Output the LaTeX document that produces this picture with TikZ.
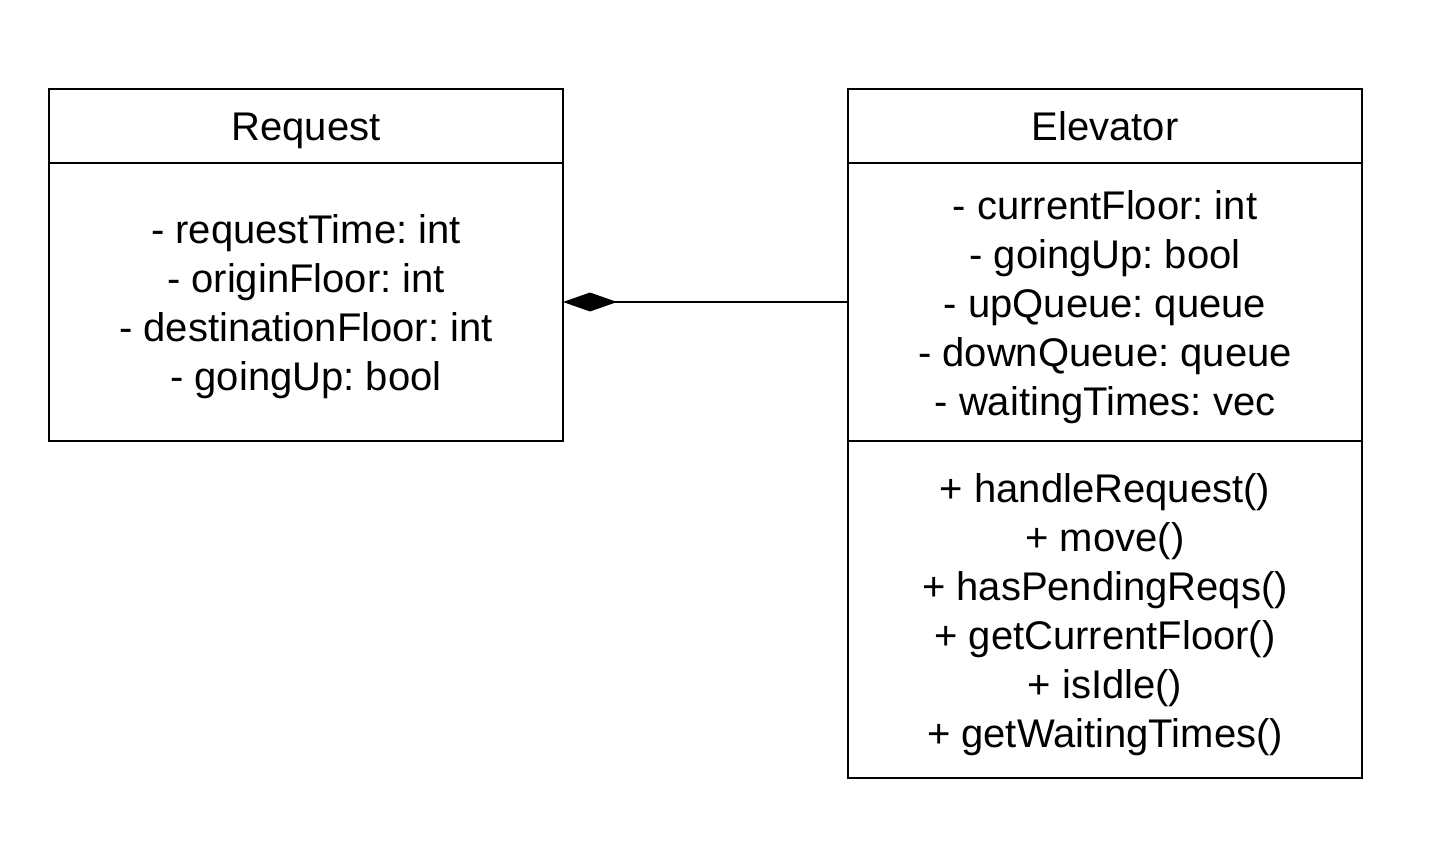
\documentclass[tikz,border=0pt]{standalone}
\usepackage{fontspec}
\setmainfont{Liberation Sans}
\frenchspacing
\usetikzlibrary{arrows.meta}
\begin{document}
\begin{tikzpicture}[x=1pt,y=-1pt,
  umlbox/.style={draw=black, line width=2.5pt, outer sep=0pt, inner sep=0pt,
    minimum width=514pt},
  umltext/.style={inner sep=0pt, align=center,
    font=\fontsize{40}{49}\selectfont},
  conn/.style={line width=2.5pt}]
\useasboundingbox (0,0) rectangle (1440,848);
% Request
\node[umlbox, minimum height=74pt] (reqhead) at (306,126) {};
\node[umlbox, minimum height=278pt] (reqbody) at (306,302) {};
\node[umltext, anchor=base] (reqtitle) at (306,140) {Request};
\node[umltext, yshift=-5pt] (reqattr) at (reqbody.center)
  {- requestTime: int\\- originFloor: int\\- destinationFloor: int\\- goingUp: bool};
% Elevator
\node[umlbox, minimum height=74pt] (elevhead) at (1105,126) {};
\node[umlbox, minimum height=278pt] (elevattr) at (1105,302) {};
\node[umlbox, minimum height=337pt] (elevmeth) at (1105,609.5) {};
\node[umltext, anchor=base] (elevtitle) at (1105,140) {Elevator};
\node[umltext, yshift=-5pt] (elevattrtext) at (elevattr.center)
  {- currentFloor: int\\- goingUp: bool\\- upQueue: queue\\- downQueue: queue\\- waitingTimes: vec};
\node[umltext, yshift=-5pt] (elevmethtext) at (elevmeth.center)
  {+ handleRequest()\\+ move()\\+ hasPendingReqs()\\+ getCurrentFloor()\\+ isIdle()\\+ getWaitingTimes()};
% Composition
\draw[conn, {Diamond[length=54pt,width=19pt]}-] (reqbody.east) -- (elevattr.west);
\end{tikzpicture}
\end{document}
